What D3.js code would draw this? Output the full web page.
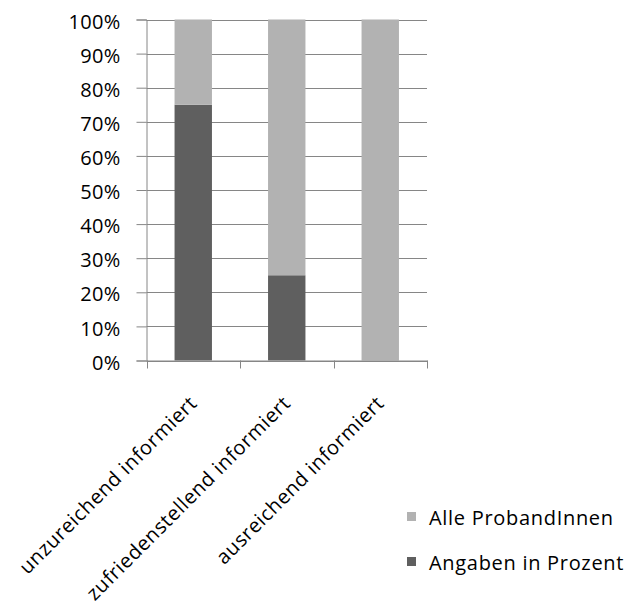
<!DOCTYPE html>
<html><head><meta charset="utf-8">
<script src="https://cdn.jsdelivr.net/npm/d3@7"></script>
<style>body{margin:0;background:#fff}svg{display:block}text{font-family:"Open Sans",sans-serif;fill:#000}</style>
</head><body>
<svg id="c" width="630" height="603"></svg>
<script>
const categories = ["unzureichend informiert", "zufriedenstellend informiert", "ausreichend informiert"];
const angaben = [75, 25, 0];          // "Angaben in Prozent"
const alle = [25, 75, 100];           // "Alle ProbandInnen"
const yTicks = [0,10,20,30,40,50,60,70,80,90,100];
const seriesNames = ["Angaben in Prozent", "Alle ProbandInnen"];
const colors = {"Angaben in Prozent":"#5f5f5f","Alle ProbandInnen":"#b2b2b2"};

const FONT = "'Open Sans',sans-serif";
const svg = d3.select("#c");
const x0 = 146.5, x1 = 427, yTop = 19.5, yBot = 360.5;
const x = d3.scaleBand().domain(categories).range([x0, x1]).paddingInner(0.6).paddingOuter(0.3);
const y = d3.scaleLinear().domain([0,100]).range([yBot, yTop]);

const data = categories.map((c,i)=>({cat:c,"Angaben in Prozent":angaben[i],"Alle ProbandInnen":alle[i]}));
const stacked = d3.stack().keys(seriesNames)(data);

// gridlines
svg.append("g").selectAll("line").data(yTicks).join("line")
  .attr("x1", x0).attr("x2", x1)
  .attr("y1", d=>Math.round(y(d))+0.5).attr("y2", d=>Math.round(y(d))+0.5)
  .attr("stroke","#868686").attr("stroke-width",1);

// y axis
const yAxis = d3.axisLeft(y).tickValues(yTicks).tickFormat(d=>d+"%").tickSize(10).tickPadding(16);
const gy = svg.append("g").attr("transform",`translate(${x0},0)`).call(yAxis);
gy.select(".domain").attr("stroke","#868686");
gy.selectAll(".tick line").attr("stroke","#868686");
gy.selectAll(".tick text").attr("font-size","20px").attr("font-family",FONT).attr("fill","#000")
  .attr("dy","0.43em").attr("letter-spacing","0.3px");

// bars
svg.append("g").selectAll("g").data(stacked).join("g")
  .attr("fill", d=>colors[d.key])
  .selectAll("rect").data(d=>d).join("rect")
  .attr("x", d=>x(d.data.cat)).attr("width", x.bandwidth())
  .attr("y", d=>y(d[1])).attr("height", d=>y(d[0])-y(d[1]));

// x axis
const xAxis = d3.axisBottom(x).tickSize(0).tickFormat(d=>d);
const gx = svg.append("g").attr("transform",`translate(0,${yBot})`).call(xAxis);
gx.select(".domain").attr("stroke","#868686");
gx.selectAll(".tick line").remove();
// category boundary ticks
const bounds = [0,1,2,3].map(i=>x0 + i*(x1-x0)/3);
gx.selectAll(".bt").data(bounds).join("line").attr("class","bt")
  .attr("x1",d=>Math.round(d)+0.5).attr("x2",d=>Math.round(d)+0.5).attr("y1",0).attr("y2",8)
  .attr("stroke","#868686");
gx.selectAll(".tick text")
  .attr("font-size","20px").attr("font-family",FONT).attr("fill","#000")
  .attr("letter-spacing","0.6px")
  .attr("text-anchor","end").attr("dy",0).attr("y",0)
  .attr("transform","translate(5,44) rotate(-45)");

// legend
const legendItems = ["Alle ProbandInnen","Angaben in Prozent"];
const lg = svg.append("g");
legendItems.forEach((n,i)=>{
  const base = 525 + i*45;
  lg.append("rect").attr("x",407).attr("y",base-13).attr("width",9).attr("height",9).attr("fill",colors[n]);
  lg.append("text").attr("x",429).attr("y",base).attr("font-size","20px").attr("font-family",FONT)
    .attr("letter-spacing","0.7px").text(n);
});
</script>
</body></html>
